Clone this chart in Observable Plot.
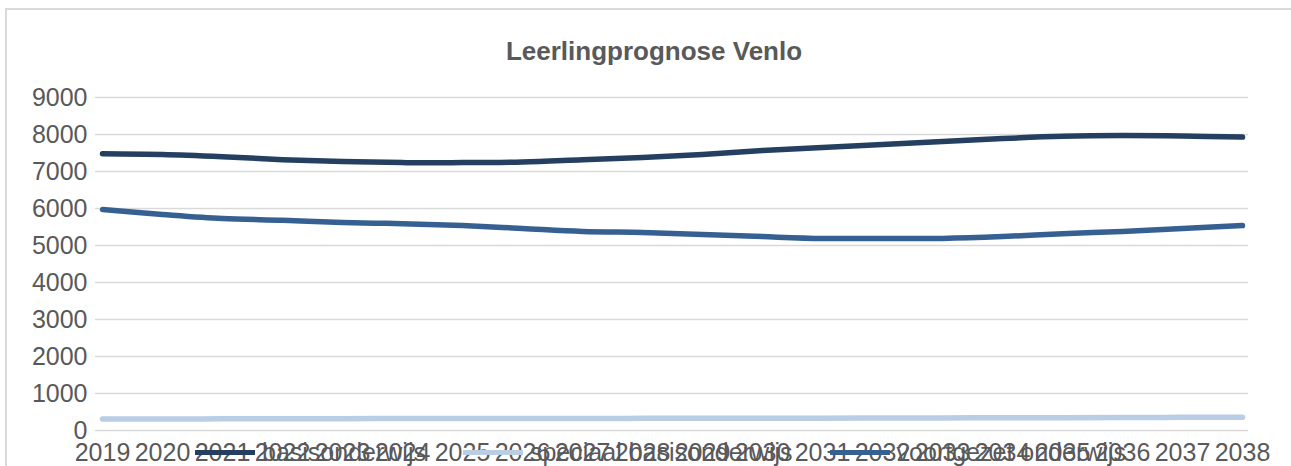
<!DOCTYPE html>
<html>
<head>
<meta charset="utf-8">
<script src="https://cdn.jsdelivr.net/npm/d3@7"></script>
<script src="https://cdn.jsdelivr.net/npm/@observablehq/plot@0.6"></script>
<style>
  html, body { margin: 0; padding: 0; background: #fff; }
  #wrap { position: relative; width: 1291px; height: 466px; overflow: hidden; font-family: "Liberation Sans", Arial, sans-serif; }
  #frame { position: absolute; left: 5px; top: 8px; width: 1400px; height: 600px; border: 2px solid #d9d9d9; box-sizing: border-box; }
  #title { position: absolute; left: 0; width: 1308px; top: 36px; text-align: center; font-weight: bold; font-size: 26px; color: #595959; line-height: 30px; }
  #chart { position: absolute; left: 0; top: 0; }
  #legend { position: absolute; left: 195px; top: 437px; display: flex; gap: 37px; font-size: 25px; color: #595959; line-height: 30px; }
  .item { display: flex; align-items: center; }
  .swatch { width: 60px; height: 5px; margin-right: 7px; }
</style>
</head>
<body>
<div id="wrap">
  <div id="frame"></div>
  <div id="chart"></div>
  <div id="title">Leerlingprognose Venlo</div>
  <div id="legend"></div>
</div>
<script>
const years = [2019,2020,2021,2022,2023,2024,2025,2026,2027,2028,2029,2030,2031,2032,2033,2034,2035,2036,2037,2038];
const seriesNames = ["basisonderwijs", "speciaal basisonderwijs", "voortgezet onderwijs"];
const colors = ["#243f60", "#b9cde5", "#376092"];
const basisonderwijs = [7480,7460,7400,7320,7270,7240,7240,7260,7320,7380,7460,7570,7650,7730,7810,7890,7950,7970,7960,7930];
const speciaalBasisonderwijs = [310,312,315,318,320,322,324,325,326,328,330,332,334,337,340,343,346,350,355,360];
const voortgezetOnderwijs = [5970,5840,5730,5680,5620,5590,5540,5460,5380,5350,5300,5240,5190,5190,5190,5240,5320,5380,5460,5540];
const yTicks = [0,1000,2000,3000,4000,5000,6000,7000,8000,9000];

const valuesBySeries = [basisonderwijs, speciaalBasisonderwijs, voortgezetOnderwijs];
const data = [];
seriesNames.forEach((name, i) => {
  years.forEach((yr, j) => data.push({series: name, year: yr, value: valuesBySeries[i][j]}));
});

const plot = Plot.plot({
  width: 1291,
  height: 466,
  marginLeft: 95,
  marginRight: 43,
  marginTop: 97,
  marginBottom: 36,
  style: { fontFamily: "Liberation Sans, Arial, sans-serif", fontSize: "25px", color: "#595959", background: "transparent", overflow: "visible" },
  x: { type: "point", domain: years, padding: 0, label: null, tickSize: 0, tickPadding: 13, tickFormat: d => String(d) },
  y: { domain: [0, 9000], ticks: yTicks, label: null, tickSize: 0, tickPadding: 8, tickFormat: d => String(d) },
  color: { domain: seriesNames, range: colors },
  marks: [
    Plot.ruleY(yTicks, { stroke: "#d9d9d9", strokeWidth: 1.5, strokeOpacity: 1 }),
    Plot.line(data, { x: "year", y: "value", z: "series", stroke: "series", strokeWidth: 5.5, curve: "catmull-rom" }),
    Plot.axisX({ tickSize: 0, tickPadding: 13, fontSize: 25, fill: "#595959", label: null, tickFormat: d => String(d) }),
    Plot.axisY({ ticks: yTicks, tickSize: 0, tickPadding: 8, fontSize: 25, fill: "#595959", label: null, tickFormat: d => String(d) })
  ]
});
document.getElementById("chart").appendChild(plot);

const legend = document.getElementById("legend");
seriesNames.forEach((name, i) => {
  const item = document.createElement("div");
  item.className = "item";
  const sw = document.createElement("span");
  sw.className = "swatch";
  sw.style.background = colors[i];
  const t = document.createElement("span");
  t.textContent = name;
  item.appendChild(sw);
  item.appendChild(t);
  legend.appendChild(item);
});
</script>
</body>
</html>
